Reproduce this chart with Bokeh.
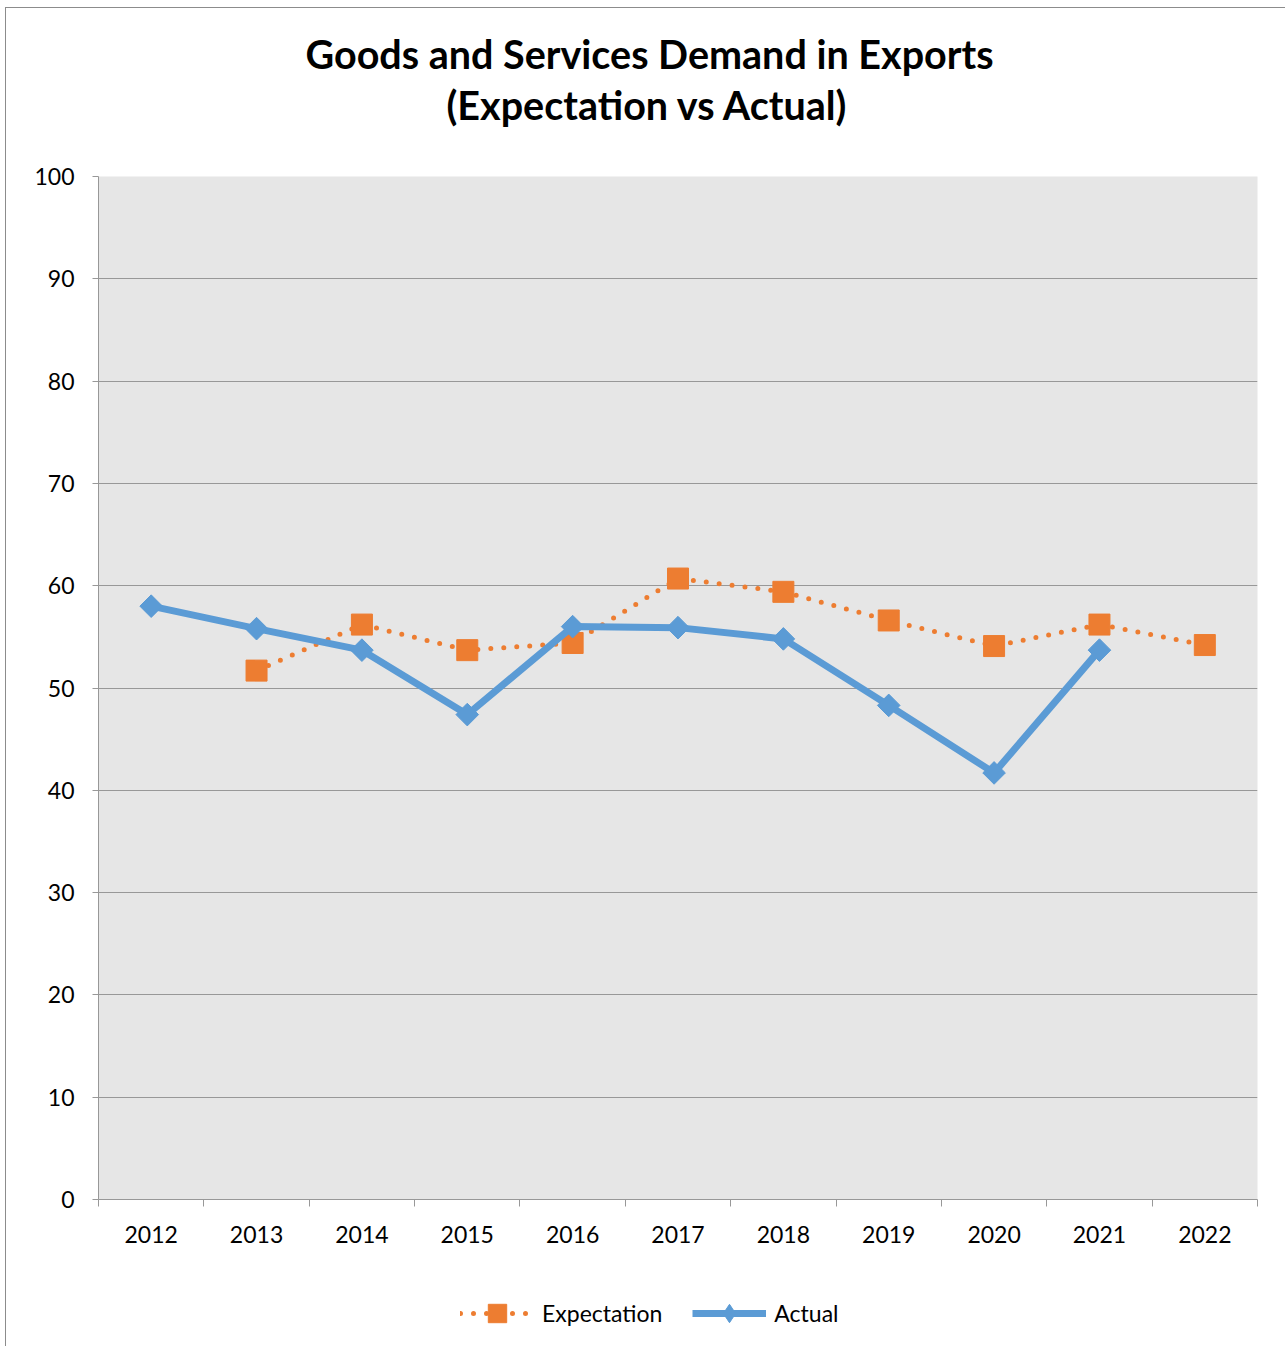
import numpy as np
from bokeh.plotting import figure
from bokeh.layouts import column
from bokeh.models import (Range1d, FixedTicker, Legend, LegendItem, ColumnDataSource, Title,
                          LinearAxis)
from bokeh.embed import file_html
from bokeh.resources import INLINE

# ---- data ----
years = [2012, 2013, 2014, 2015, 2016, 2017, 2018, 2019, 2020, 2021, 2022]
expectation = [np.nan, 51.7, 56.2, 53.7, 54.4, 60.7, 59.4, 56.6, 54.1, 56.2, 54.2]
actual = [58.0, 55.8, 53.7, 47.4, 56.0, 55.9, 54.8, 48.3, 41.7, 53.7, np.nan]
y_ticks = [0, 10, 20, 30, 40, 50, 60, 70, 80, 90, 100]
series_names = ["Expectation", "Actual"]
title_line1 = "Goods and Services Demand in Exports"
title_line2 = "(Expectation vs Actual)"

FONT = "Lato"
GRID = "#989898"
ORANGE = "#ed7d31"
BLUE = "#5b9bd5"

src = ColumnDataSource(dict(year=years, expectation=expectation, actual=actual))

p = figure(
    width=1279, height=1241,
    output_backend="svg", toolbar_location=None,
    x_range=Range1d(years[0] - 0.5, years[-1] + 0.5),
    y_range=Range1d(y_ticks[0], y_ticks[-1]),
    min_border_left=92, min_border_right=28,
    min_border_top=168, min_border_bottom=50,
)
p.title = None

# bottom category axis: labels at categories, tick marks between them
xa = p.below[0]
boundaries = [y - 0.5 for y in years] + [years[-1] + 0.5]
xa.ticker = FixedTicker(ticks=years, minor_ticks=boundaries)
xa.major_tick_line_color = None
xa.major_tick_out = 0
xa.major_tick_in = 0
xa.minor_tick_out = 7
xa.minor_tick_in = 0
xa.minor_tick_line_color = GRID
xa.axis_line_color = GRID
xa.major_label_text_font = FONT
xa.major_label_text_font_size = "23px"
xa.major_label_text_color = "black"
xa.major_label_standoff = 19
p.xgrid.visible = False

# invisible spacer between the frame and the two title lines
spacer = LinearAxis(ticker=FixedTicker(ticks=years), axis_line_color=None,
                    major_tick_line_color=None, minor_tick_line_color=None,
                    major_tick_out=48, major_tick_in=0, minor_tick_out=0, minor_tick_in=0,
                    major_label_text_color=None, major_label_standoff=0)
p.add_layout(spacer, "above")

t2 = Title(text=title_line2, align="left", offset=348, standoff=2,
           text_font=FONT, text_font_style="bold", text_font_size="39.5px", text_color="black")
t1 = Title(text=title_line1, align="left", offset=207, standoff=2,
           text_font=FONT, text_font_style="bold", text_font_size="39.5px", text_color="black")
p.add_layout(t2, "above")
p.add_layout(t1, "above")

p.background_fill_color = "#e6e6e6"
p.border_fill_color = "white"
p.outline_line_color = None

ya = p.left[0]
ya.ticker = FixedTicker(ticks=y_ticks)
ya.minor_tick_line_color = None
ya.major_tick_out = 6
ya.major_tick_in = 0
ya.major_tick_line_color = GRID
ya.axis_line_color = GRID
ya.major_label_text_font = FONT
ya.major_label_text_font_size = "23px"
ya.major_label_text_color = "black"
ya.major_label_standoff = 18
p.ygrid.grid_line_color = GRID
p.ygrid.ticker = FixedTicker(ticks=y_ticks)

p.line("year", "expectation", source=src, line_color=ORANGE, line_width=5,
       line_dash="0 13", line_cap="round")
p.scatter("year", "expectation", source=src, marker="square", size=21,
          fill_color=ORANGE, line_color=ORANGE)
p.line("year", "actual", source=src, line_color=BLUE, line_width=7, line_join="round")
p.scatter("year", "actual", source=src, marker="square", angle=np.pi / 4, size=16,
          fill_color=BLUE, line_color=BLUE)

# ---- legend strip under the chart ----
# key renderers use the same series but the strip's ranges keep them out of view,
# so only the legend swatches show
lf = figure(width=1279, height=97, output_backend="svg", toolbar_location=None,
            x_range=Range1d(0, 1), y_range=Range1d(0, 1),
            x_axis_location=None, y_axis_location=None,
            min_border=0, min_border_left=0, min_border_right=0,
            min_border_top=0, min_border_bottom=0)
lf.title = None
lf.outline_line_color = None
lf.background_fill_color = "white"
lf.border_fill_color = "white"
lf.xgrid.visible = False
lf.ygrid.visible = False

k_exp_line = lf.line("year", "expectation", source=src, line_color=ORANGE, line_width=5,
                     line_dash="0 13", line_cap="round")
k_exp_mark = lf.scatter("year", "expectation", source=src, marker="square",
                        fill_color=ORANGE, line_color=ORANGE)
k_act_line = lf.line("year", "actual", source=src, line_color=BLUE, line_width=7)
k_act_mark = lf.scatter("year", "actual", source=src, marker="diamond",
                        fill_color=BLUE, line_color=BLUE)

legend = Legend(
    items=[LegendItem(label=series_names[0], renderers=[k_exp_line, k_exp_mark]),
           LegendItem(label=series_names[1], renderers=[k_act_line, k_act_mark])],
    orientation="horizontal", location=(362, 10), margin=0,
    glyph_width=74, glyph_height=46, label_standoff=8,
    spacing=30, padding=0,
    label_text_font=FONT, label_text_font_size="23px", label_text_color="black",
    background_fill_alpha=0, border_line_color=None,
)
lf.add_layout(legend)

layout = column(p, lf, spacing=0,
                styles={"margin-left": "5px", "margin-top": "7px",
                        "border-left": "1px solid #8c8c8c",
                        "border-top": "1px solid #8c8c8c"})

open("out.html", "w").write(file_html(layout, INLINE))
